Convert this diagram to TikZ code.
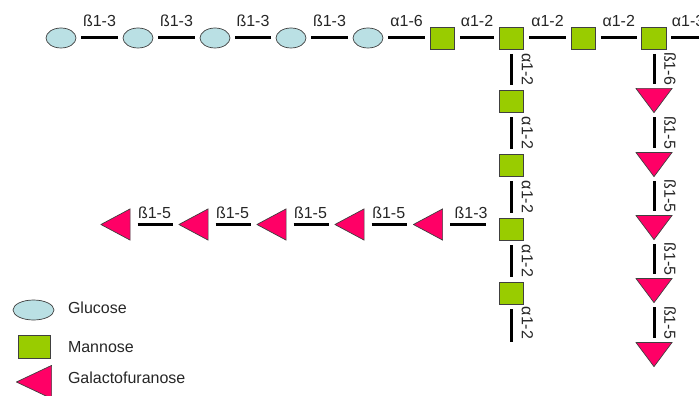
\documentclass[tikz,border=0pt]{standalone}
\usepackage{fontspec}
\setmainfont{Liberation Sans}
\usetikzlibrary{shapes.geometric}
\definecolor{glc}{RGB}{186,224,228}
\definecolor{man}{RGB}{153,204,0}
\definecolor{galf}{RGB}{255,0,102}
\begin{document}
\begin{tikzpicture}[x=1pt,y=-1pt,
  font=\fontsize{16}{19}\selectfont,
  every node/.style={inner sep=0pt, outer sep=0pt},
  sugar/.style={draw=black!75, line width=0.7pt},
  glcnode/.style={sugar, ellipse, fill=glc, minimum width=30pt, minimum height=20pt},
  mannode/.style={sugar, rectangle, fill=man, minimum width=24.5pt, minimum height=22pt},
  galfleft/.style={rectangle, minimum width=30pt, minimum height=32pt,
    path picture={\filldraw[sugar, fill=galf]
      ([shift={(0.4pt,0pt)}]path picture bounding box.west)
      -- ([shift={(-0.4pt,-0.4pt)}]path picture bounding box.north east)
      -- ([shift={(-0.4pt,0.4pt)}]path picture bounding box.south east) -- cycle;}},
  galfdown/.style={rectangle, minimum width=37pt, minimum height=25pt,
    path picture={\filldraw[sugar, fill=galf]
      ([shift={(0.4pt,-0.4pt)}]path picture bounding box.north west)
      -- ([shift={(-0.4pt,-0.4pt)}]path picture bounding box.north east)
      -- ([shift={(0pt,0.4pt)}]path picture bounding box.south) -- cycle;}},
  link/.style={line width=3pt, shorten <=5pt, shorten >=5pt},
  toplab/.style={anchor=base, yshift=11pt, text=black!85},
  botlab/.style={anchor=base, yshift=6pt, text=black!85},
  vlab/.style={xshift=16pt, rotate=-90, text=black!85},
  legtext/.style={anchor=base west, text=black!85}]
\useasboundingbox (0,0) rectangle (699,396);

% main chain: glucose tail and mannose backbone
\node[glcnode] (g1) at (61,38) {};
\node[glcnode] (g2) at (138,38) {};
\node[glcnode] (g3) at (215,38) {};
\node[glcnode] (g4) at (291,38) {};
\node[glcnode] (g5) at (368,38) {};
\node[mannode] (m1) at (442.5,38) {};
\node[mannode] (m2) at (511.5,38) {};
\node[mannode] (m3) at (583.5,38) {};
\node[mannode] (m4) at (654,38) {};
\coordinate (topend) at (710,38);

% mannose branch
\node[mannode] (m5) at (511.5,101) {};
\node[mannode] (m6) at (511.5,165) {};
\node[mannode] (m7) at (511.5,229) {};
\node[mannode] (m8) at (511.5,293) {};
\coordinate (colend) at (511.5,342);

% galactofuranose branch (vertical)
\node[galfdown] (f1) at (654,100.5) {};
\node[galfdown] (f2) at (654,164.5) {};
\node[galfdown] (f3) at (654,227.5) {};
\node[galfdown] (f4) at (654,290.5) {};
\node[galfdown] (f5) at (654,354.5) {};

% galactofuranose branch (horizontal)
\node[galfleft] (a1) at (115.5,224.5) {};
\node[galfleft] (a2) at (193.5,224.5) {};
\node[galfleft] (a3) at (271.5,224.5) {};
\node[galfleft] (a4) at (349.5,224.5) {};
\node[galfleft] (a5) at (428,224.5) {};

% linkages of the main chain
\draw[link] (g1) -- node[toplab]{ß1-3} (g2);
\draw[link] (g2) -- node[toplab]{ß1-3} (g3);
\draw[link] (g3) -- node[toplab]{ß1-3} (g4);
\draw[link] (g4) -- node[toplab]{ß1-3} (g5);
\draw[link] (g5) -- node[toplab]{α1-6} (m1);
\draw[link] (m1) -- node[toplab]{α1-2} (m2);
\draw[link] (m2) -- node[toplab]{α1-2} (m3);
\draw[link] (m3) -- node[toplab]{α1-2} (m4);
\draw[link, shorten >=0pt] (m4) -- node[toplab]{α1-3} (topend);

% linkages of the mannose branch
\draw[link] (m2) -- node[vlab]{α1-2} (m5);
\draw[link] (m5) -- node[vlab]{α1-2} (m6);
\draw[link] (m6) -- node[vlab]{α1-2} (m7);
\draw[link] (m7) -- node[vlab]{α1-2} (m8);
\draw[link, shorten >=0pt] (m8) -- node[vlab]{α1-2} (colend);

% linkages of the vertical galactofuranose branch
\draw[link, shorten >=4pt] (m4) -- node[vlab]{ß1-6} (f1);
\draw[link, shorten <=4pt, shorten >=4pt] (f1) -- node[vlab]{ß1-5} (f2);
\draw[link, shorten <=4pt, shorten >=4pt] (f2) -- node[vlab]{ß1-5} (f3);
\draw[link, shorten <=4pt, shorten >=4pt] (f3) -- node[vlab]{ß1-5} (f4);
\draw[link, shorten <=4pt, shorten >=4pt] (f4) -- node[vlab]{ß1-5} (f5);

% linkages of the horizontal galactofuranose branch
\draw[link, shorten <=7pt, shorten >=6pt] (a1) -- node[botlab]{ß1-5} (a2);
\draw[link, shorten <=7pt, shorten >=6pt] (a2) -- node[botlab]{ß1-5} (a3);
\draw[link, shorten <=7pt, shorten >=6pt] (a3) -- node[botlab]{ß1-5} (a4);
\draw[link, shorten <=7pt, shorten >=6pt] (a4) -- node[botlab]{ß1-5} (a5);
\draw[link, shorten <=7pt, shorten >=13pt] (a5.east) -- node[botlab]{ß1-3} (a5.east -| m7.west);

% legend
\node[glcnode, minimum width=41pt] (lg) at (33.5,310) {};
\node[mannode, minimum width=32pt, minimum height=23pt] (lm) at (34,346.5) {};
\node[galfleft, minimum width=36pt, minimum height=34pt] (lf) at (34,382) {};
\node[legtext] (tg) at (68,313) {Glucose};
\node[legtext] (tm) at (68,352) {Mannose};
\node[legtext] (tf) at (68,383) {Galactofuranose};
\end{tikzpicture}
\end{document}
